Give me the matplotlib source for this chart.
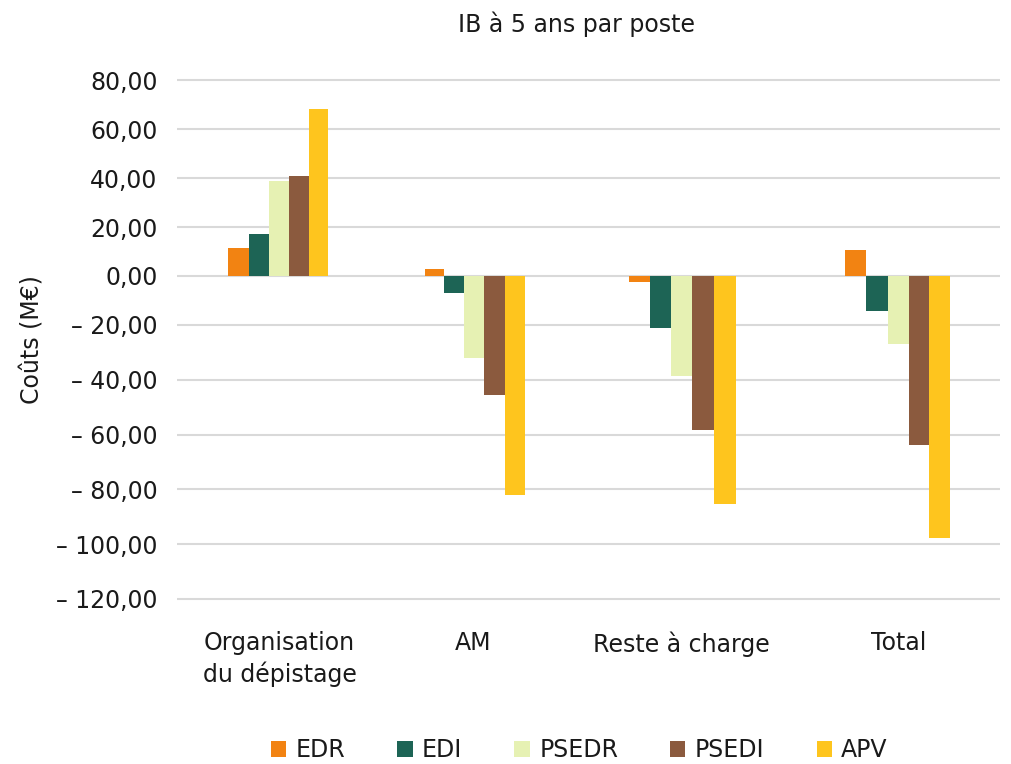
import matplotlib
matplotlib.use("Agg")
import matplotlib.pyplot as plt
import matplotlib.transforms as mtransforms
import numpy as np
from matplotlib.ticker import FuncFormatter, FixedLocator

categories = ["Organisation\ndu dépistage", "AM", "Reste à charge", "Total"]
series = ["EDR", "EDI", "PSEDR", "PSEDI", "APV"]
EDR = [11.5, 3.0, -2.5, 10.5]
EDI = [17.3, -7.0, -21.0, -14.5]
PSEDR = [39.0, -32.0, -38.8, -27.0]
PSEDI = [41.0, -45.5, -58.5, -63.7]
APV = [68.2, -82.0, -85.5, -97.6]
colors = ["#F28312", "#1D6455", "#E6F1B3", "#8B5A3E", "#FEC51E"]
y_ticks = [80, 60, 40, 20, 0, -20, -40, -60, -80, -100, -120]

plt.rcParams['font.family'] = ['DejaVu Sans']


def piecewise(knots_in, knots_out):
    ki = np.asarray(knots_in, float)
    ko = np.asarray(knots_out, float)

    def f(v, a, b):
        v = np.asarray(v, float)
        out = np.interp(v, a, b)
        lo = v < a[0]
        hi = v > a[-1]
        s0 = (b[1] - b[0]) / (a[1] - a[0])
        s1 = (b[-1] - b[-2]) / (a[-1] - a[-2])
        out = np.where(lo, b[0] + (v - a[0]) * s0, out)
        out = np.where(hi, b[-1] + (v - a[-1]) * s1, out)
        return out

    return (lambda v: f(v, ki, ko)), (lambda v: f(v, ko, ki))


fig = plt.figure(figsize=(10.11, 7.64), dpi=100)
ax = fig.add_axes([177 / 1011, 1 - 602 / 764, 823 / 1011, (602 - 78) / 764])

# visual spacing of the reference (slightly uneven image scaling)
yf, yi = piecewise([-120, -20, 80], [-599, -325, -80.7])
ax.set_yscale('function', functions=(yf, yi))
xf, xi = piecewise([-0.5, 0, 1, 2, 3, 3.5], [177, 279.5, 473.5, 681.5, 899, 1000])
ax.set_xscale('function', functions=(xf, xi))

values = [EDR, EDI, PSEDR, PSEDI, APV]
x = np.arange(len(categories))
w = 0.1
for i, (name, vals) in enumerate(zip(series, values)):
    ax.bar(x + (i - 2) * w, vals, width=w, color=colors[i], label=name, zorder=3)

ax.set_xlim(-0.5, 3.5)
ax.set_ylim(-121.1, 81)
ax.yaxis.set_major_locator(FixedLocator(y_ticks))
ax.yaxis.set_minor_locator(FixedLocator([]))
ax.xaxis.set_minor_locator(FixedLocator([]))


def fmt(v, pos):
    s = f"{abs(v):.2f}".replace(".", ",")
    return ("– " + s) if v < 0 else s


ax.yaxis.set_major_formatter(FuncFormatter(fmt))
ax.grid(axis='y', which='major', color='#d9d9d9', linewidth=1.5, zorder=0)
for sp in ax.spines.values():
    sp.set_visible(False)
ax.tick_params(axis='both', which='both', length=0, labelsize=17, colors='#1a1a1a')
ax.tick_params(axis='y', pad=14)
ax.xaxis.set_major_locator(FixedLocator(list(x)))
ax.set_xticklabels(categories, fontsize=17, linespacing=1.3)
ax.tick_params(axis='x', pad=21)

ax.set_ylabel("Coûts (M€)", fontsize=17, color='#1a1a1a', labelpad=8)
fig.text(0.57, 0.968, "IB à 5 ans par poste", ha='center', va='center', fontsize=17, color='#1a1a1a')

leg = fig.legend(loc='center', bbox_to_anchor=(0.573, 0.018), ncol=5, frameon=False,
                 fontsize=17, handlelength=0.65, handleheight=0.65, handletextpad=0.4,
                 columnspacing=2.2)
for t in leg.get_texts():
    t.set_color('#1a1a1a')

fig.savefig("out.png", dpi=100, facecolor='white')
